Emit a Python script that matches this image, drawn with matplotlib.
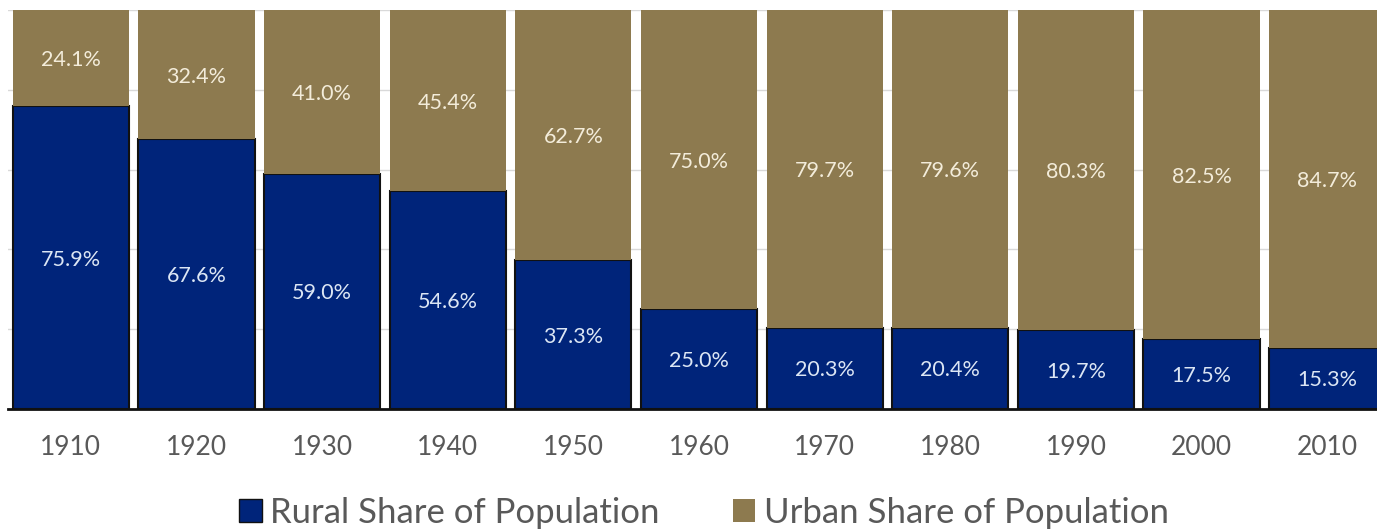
import matplotlib
matplotlib.use("Agg")
import matplotlib.pyplot as plt
from matplotlib.patches import Patch

years = ["1910", "1920", "1930", "1940", "1950", "1960", "1970", "1980", "1990", "2000", "2010"]
rural = [75.9, 67.6, 59.0, 54.6, 37.3, 25.0, 20.3, 20.4, 19.7, 17.5, 15.3]
urban = [24.1, 32.4, 41.0, 45.4, 62.7, 75.0, 79.7, 79.6, 80.3, 82.5, 84.7]

plt.rcParams['font.family'] = ['Lato', 'DejaVu Sans']

navy = "#00247A"
olive = "#8D7A4F"

W, H = 1377, 531
fig = plt.figure(figsize=(W / 100, H / 100), dpi=100)
left_px, right_px, top_px, bot_px = 8, 1390, 10, 409
ax = fig.add_axes([left_px / W, 1 - bot_px / H, (right_px - left_px) / W, (bot_px - top_px) / H])

x = range(len(years))
bw = 0.925
ax.bar(x, rural, width=bw, color=navy, edgecolor="#111111", linewidth=1.5, zorder=3)
ax.bar(x, urban, width=bw, bottom=rural, color=olive, edgecolor="none", zorder=3)

for i in x:
    ax.text(i, rural[i] / 2 - 0.5, f"{rural[i]:.1f}%", ha="center", va="center",
            color="#DCE6F4", fontsize=15.5, zorder=4)
    ax.text(i, rural[i] + urban[i] / 2 - 0.5, f"{urban[i]:.1f}%", ha="center", va="center",
            color="#F3ECDA", fontsize=15.5, zorder=4)

ax.set_xlim(-0.5, len(years) - 0.5)
ax.set_ylim(0, 100)
ax.set_yticks([0, 20, 40, 60, 80, 100])
ax.yaxis.grid(True, color="#D9D9D9", linewidth=1, zorder=0)
ax.set_axisbelow(True)
ax.tick_params(axis="y", left=False, labelleft=False)
ax.set_xticks(list(x))
ax.set_xticklabels(years, fontsize=19, color="#595959")
ax.tick_params(axis="x", length=0, pad=19)
for s in ["left", "right", "top"]:
    ax.spines[s].set_visible(False)
ax.spines["bottom"].set_color("#111111")
ax.spines["bottom"].set_linewidth(2)
ax.spines["bottom"].set_zorder(5)

handles = [Patch(facecolor=navy, edgecolor="#111111", linewidth=1),
           Patch(facecolor=olive, edgecolor="none")]
fig.legend(handles, ["Rural Share of Population", "Urban Share of Population"],
           loc="center", bbox_to_anchor=(704 / W, 1 - 513 / H), ncol=2, frameon=False,
           fontsize=25, labelcolor="#595959", handlelength=0.65, handleheight=0.65,
           handletextpad=0.25, columnspacing=2.1)

fig.savefig("out.png", dpi=100)
